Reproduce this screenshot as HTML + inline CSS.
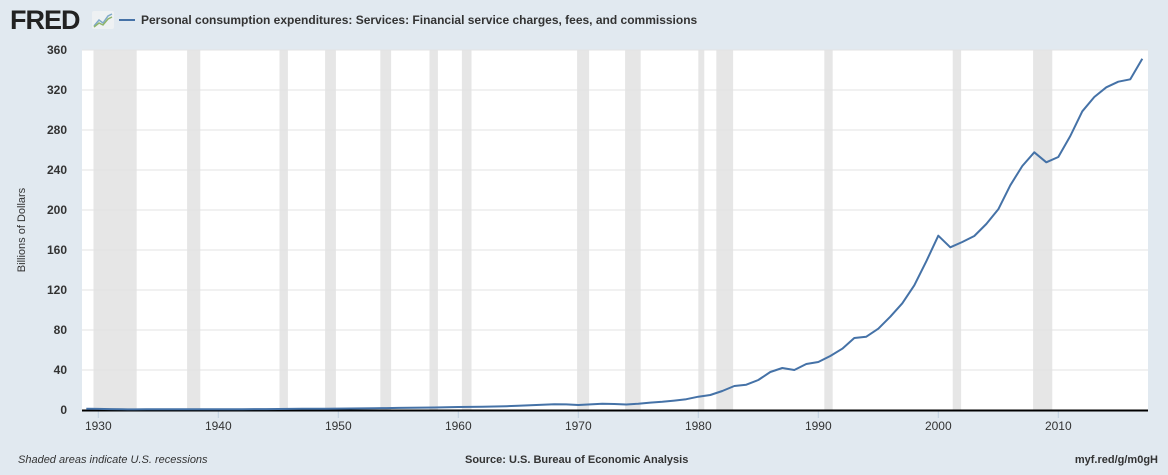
<!DOCTYPE html>
<html><head><meta charset="utf-8"><style>
body{margin:0;width:1168px;height:470px;background:#e1e9f0;font-family:"Liberation Sans",sans-serif;overflow:hidden}
</style></head><body>
<svg width="1168" height="470" xmlns="http://www.w3.org/2000/svg">
<text x="10" y="29" font-size="27" font-weight="bold" fill="#222" font-family="Liberation Sans" letter-spacing="-1">FRED</text>
<g><rect x="92" y="11" width="22" height="18" rx="2" fill="#eef1f3"/><polyline points="94,26 99,20 103,23 108,16 112,14" fill="none" stroke="#7fa9c9" stroke-width="1.5"/><polyline points="94,27 99,23 103,25 108,19 112,17" fill="none" stroke="#8fb56a" stroke-width="1.5"/></g>
<line x1="119" y1="20" x2="135" y2="20" stroke="#4572a7" stroke-width="2"/>
<text x="141" y="24" font-size="12" font-weight="bold" fill="#333">Personal consumption expenditures: Services: Financial service charges, fees, and commissions</text>
<rect x="82" y="50" width="1066" height="360" fill="#fff"/>
<g id="rec"></g><g id="grid"></g><g id="ticks"></g>
<line x1="82" y1="410.5" x2="1148" y2="410.5" stroke="#000" stroke-width="2"/>
<path id="series" fill="none" stroke="#4572a7" stroke-width="2" stroke-linejoin="round"/>
<text transform="translate(25,230) rotate(-90)" text-anchor="middle" font-size="11" fill="#333">Billions of Dollars</text>
<text x="18" y="463" font-size="11" font-style="italic" fill="#333">Shaded areas indicate U.S. recessions</text>
<text x="465" y="463" font-size="11" font-weight="bold" fill="#333">Source: U.S. Bureau of Economic Analysis</text>
<text x="1158" y="463" text-anchor="end" font-size="11" font-weight="bold" fill="#333">myf.red/g/m0gH</text>
</svg>
<script>
const years=[1929,1930,1931,1932,1933,1934,1935,1936,1937,1938,1939,1940,1941,1942,1943,1944,1945,1946,1947,1948,1949,1950,1951,1952,1953,1954,1955,1956,1957,1958,1959,1960,1961,1962,1963,1964,1965,1966,1967,1968,1969,1970,1971,1972,1973,1974,1975,1976,1977,1978,1979,1980,1981,1982,1983,1984,1985,1986,1987,1988,1989,1990,1991,1992,1993,1994,1995,1996,1997,1998,1999,2000,2001,2002,2003,2004,2005,2006,2007,2008,2009,2010,2011,2012,2013,2014,2015,2016,2017];
const values=[1.3,1.1,0.9,0.7,0.6,0.7,0.7,0.8,0.8,0.7,0.7,0.8,0.8,0.8,0.9,0.9,1,1.1,1.2,1.2,1.2,1.4,1.5,1.6,1.8,1.9,2.1,2.3,2.4,2.5,2.8,3,3.1,3.3,3.5,3.8,4.2,4.7,5.2,5.8,5.6,5.0,5.6,6.2,6.0,5.5,6.3,7.4,8.2,9.4,10.8,13.3,15,19,24,25.3,30,38,42,40,46,48,54,61.3,72,73.3,81.3,93.3,106.7,124.7,148.7,174.3,162.7,168,174,186,200.7,224.7,244,257.7,247.7,253,274,298.7,313,322.7,328.3,330.7,351.3];
const yTicks=[0,40,80,120,160,200,240,280,320,360];
const xTicks=[1930,1940,1950,1960,1970,1980,1990,2000,2010];
const recStart=[1929.6,1937.4,1945.1,1948.9,1953.5,1957.6,1960.3,1969.9,1973.9,1980.0,1981.5,1990.5,2001.2,2007.9];
const recEnd=[1933.2,1938.5,1945.8,1949.8,1954.4,1958.3,1961.1,1970.9,1975.2,1980.5,1982.9,1991.2,2001.9,2009.5];
const X=y=>698.3+12*(y-1980), Y=v=>410-v*(360/360);
const NS='http://www.w3.org/2000/svg';
function mk(t,a,p){const e=document.createElementNS(NS,t);for(const k in a)e.setAttribute(k,a[k]);p.appendChild(e);return e;}
const rec=document.getElementById('rec'),grid=document.getElementById('grid'),tk=document.getElementById('ticks');
recStart.forEach((s,i)=>{const x1=Math.max(82,X(s));const r=mk('rect',{x:x1,y:50,width:X(recEnd[i])-x1,height:360,fill:'#e6e6e6'},rec);

});
yTicks.forEach(v=>{if(v>0){const l=mk('line',{x1:82,x2:1148,y1:Y(v),y2:Y(v),stroke:'#e3e3e3','stroke-width':1},grid);

}
const t=mk('text',{x:67,y:Y(v)+4,'text-anchor':'end','font-size':12,'font-weight':'bold',fill:'#333'},tk);t.textContent=v;

});
xTicks.forEach(y=>{const l=mk('line',{x1:X(y),x2:X(y),y1:411,y2:418,stroke:'#c0d0e0'},tk);


const t=mk('text',{x:X(y),y:430,'text-anchor':'middle','font-size':12,fill:'#333'},tk);t.textContent=y;

});
document.getElementById('series').setAttribute('d',years.map((y,i)=>(i?'L':'M')+X(y).toFixed(1)+','+Y(values[i]).toFixed(1)).join(''));
</script>
</body></html>
